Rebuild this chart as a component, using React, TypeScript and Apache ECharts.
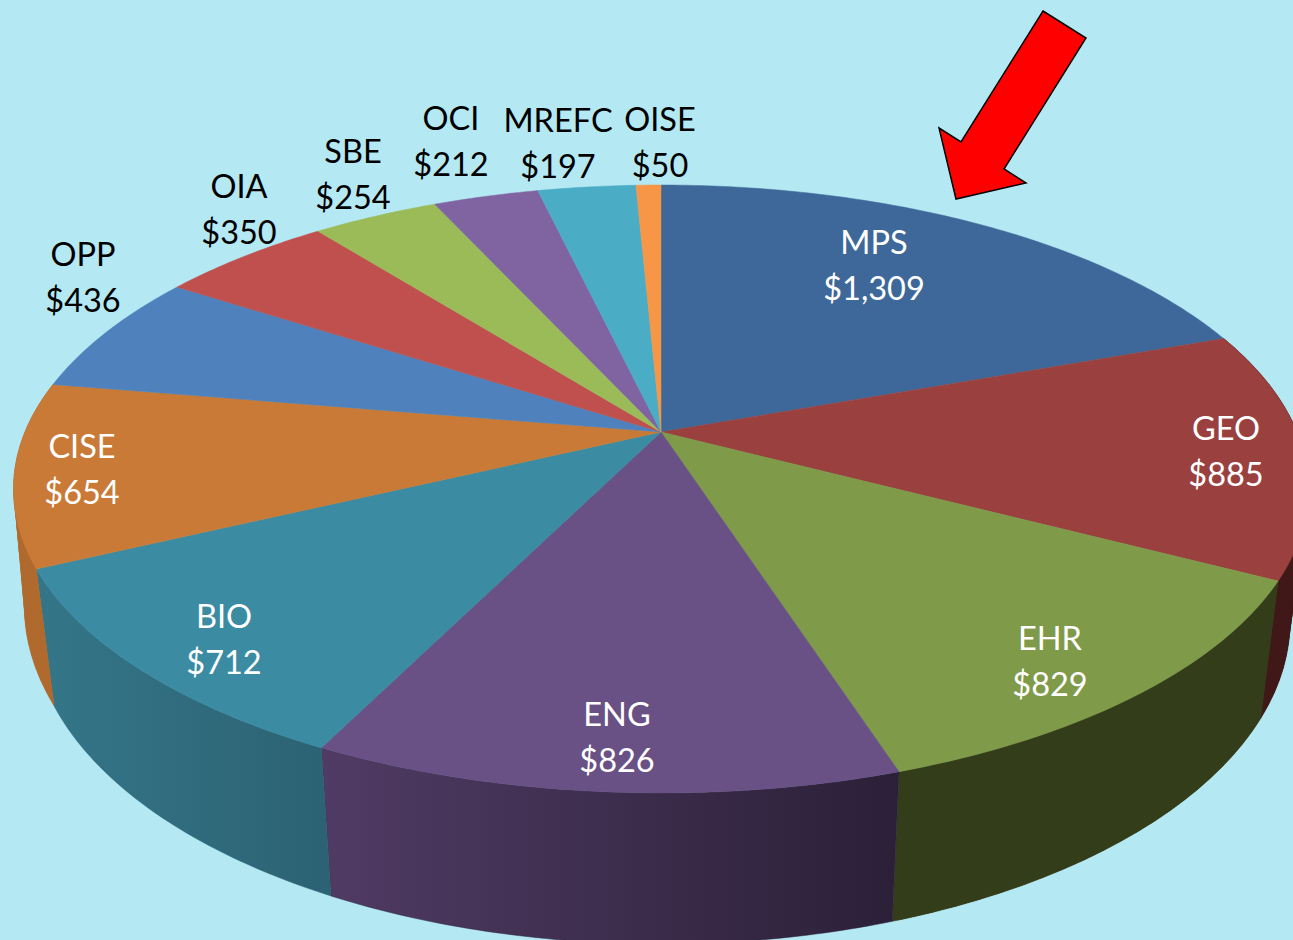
import React, { useEffect, useRef } from "react";
import * as echarts from "echarts";

const categories = ["MPS", "GEO", "EHR", "ENG", "BIO", "CISE", "OPP", "OIA", "SBE", "OCI", "MREFC", "OISE"];
const budgets = [1309, 885, 829, 826, 712, 654, 436, 350, 254, 212, 197, 50];
const valueLabels = ["$1,309", "$885", "$829", "$826", "$712", "$654", "$436", "$350", "$254", "$212", "$197", "$50"];

const topColors = ["#3E6899", "#9A403F", "#7F9A48", "#695185", "#3B8BA2", "#C97A37", "#4F81BD", "#C0504D", "#9BBB59", "#8064A2", "#4BACC6", "#F79646"];
const wallLeft = ["#2E4D72", "#401818", "#343D1A", "#503B64", "#347689", "#B06A2E", "#3A6A9E", "#8E3A38", "#748C42", "#5F4A79", "#387F94", "#B86F33"];
const wallRight = ["#2E4D72", "#401818", "#343D1A", "#2B2038", "#2C6273", "#B06A2E", "#3A6A9E", "#8E3A38", "#748C42", "#5F4A79", "#387F94", "#B86F33"];
const frontSlices = ["GEO", "EHR", "ENG", "BIO", "CISE"];
const labelColors = ["#fff", "#fff", "#fff", "#fff", "#fff", "#fff", "#000", "#000", "#000", "#000", "#000", "#000"];
const labelCenters = [[874, 264], [1226, 450], [1050, 660], [617, 736], [224, 638], [82, 468], [83, 276], [239, 208], [353, 173], [451, 140], [558, 142], [660, 141]];
const arrowPoints = [[1043, 11], [1086, 38], [1004, 169], [1026, 183], [956, 199], [939, 128], [961, 142]];

const CX = 661;
const PERSPECTIVE = 0.1875;
const TOP_DISC = { a: 636, b: 293.3, cy: 432, bulge: 0 };
const BOTTOM_DISC = { a: 618, b: 312, cy: 560, bulge: 12 };
const total = budgets.reduce((s, v) => s + v, 0);
const startAngles: number[] = [];
budgets.reduce((s, v) => {
  startAngles.push(s);
  return s + v;
}, 0);

type Disc = { a: number; b: number; cy: number; bulge: number };

function project(disc: Disc, angle: number): number[] {
  const u = Math.sin(angle);
  const v = Math.cos(angle);
  const d = 1 + PERSPECTIVE * v;
  // the base of the reference swells a little on its left-hand side
  const a = disc.a + (u < 0 && Math.abs(v) < 0.43 ? disc.bulge * (1 - Math.abs(v) / 0.43) : 0);
  return [CX + (a * u) / d, disc.cy - (disc.b * v) / d];
}

function sliceAngles(i: number): number[] {
  const a0 = (startAngles[i] / total) * Math.PI * 2;
  const a1 = ((startAngles[i] + budgets[i]) / total) * Math.PI * 2;
  const steps = Math.max(4, Math.ceil((a1 - a0) / 0.012));
  const out: number[] = [];
  for (let k = 0; k <= steps; k++) out.push(a0 + ((a1 - a0) * k) / steps);
  return out;
}

function arc(disc: Disc, i: number): number[][] {
  return sliceAngles(i).map((t) => project(disc, t));
}

export default function App() {
  const ref = useRef<HTMLDivElement>(null);
  useEffect(() => {
    const chart = echarts.init(ref.current!, undefined, { renderer: "svg" });
    chart.setOption({
      animation: false,
      backgroundColor: "#B4E9F4",
      graphic: [
        {
          type: "polygon",
          z: 100,
          shape: { points: arrowPoints },
          style: { fill: "#FF0000", stroke: "#000", lineWidth: 1.5 },
        },
      ],
      series: [
        {
          type: "custom",
          name: "walls",
          coordinateSystem: "none",
          z: 1,
          silent: true,
          data: budgets,
          renderItem: (p: any) => {
            const i = p.dataIndex;
            if (!frontSlices.includes(categories[i])) return { type: "group", children: [] };
            const top = arc(TOP_DISC, i);
            const bottom = arc(BOTTOM_DISC, i);
            const children: any[] = [];
            // Coarse strips under the wall close the notch between the rims at the silhouette.
            for (let k = 0; k + 4 < top.length; k += 3) {
              children.push({
                type: "polygon",
                shape: { points: [top[k], top[k + 4], bottom[k + 4], bottom[k]] },
                style: { fill: wallLeft[i] === wallRight[i] ? wallLeft[i] : "rgba(0,0,0,0)" },
              });
            }
            const fill = new echarts.graphic.LinearGradient(0, 0, 1, 0, [
              { offset: 0, color: wallLeft[i] },
              { offset: 1, color: wallRight[i] },
            ]);
            children.push({
              type: "polygon",
              shape: { points: top.concat(bottom.slice().reverse()) },
              style: { fill, stroke: wallRight[i], lineWidth: 0.5 },
            });
            return { type: "group", children };
          },
        },
        {
          type: "custom",
          name: "tops",
          coordinateSystem: "none",
          z: 2,
          silent: true,
          data: budgets,
          renderItem: (p: any) => {
            const i = p.dataIndex;
            const points = [[CX, TOP_DISC.cy]].concat(arc(TOP_DISC, i));
            return { type: "polygon", shape: { points }, style: { fill: topColors[i], stroke: topColors[i], lineWidth: 0.5 } };
          },
        },
        {
          type: "custom",
          name: "labels",
          coordinateSystem: "none",
          z: 3,
          silent: true,
          data: budgets,
          renderItem: (p: any) => {
            const i = p.dataIndex;
            return {
              type: "text",
              x: labelCenters[i][0],
              y: labelCenters[i][1],
              style: {
                text: categories[i] + "\n" + valueLabels[i],
                fill: labelColors[i],
                fontFamily: "Lato",
                fontSize: 32.5,
                lineHeight: 46,
                align: "center",
                verticalAlign: "middle",
              },
            };
          },
        },
      ],
    });
    return () => chart.dispose();
  }, []);
  return <div ref={ref} style={{ position: "absolute", left: 0, top: 0, width: 1293, height: 940 }} />;
}
